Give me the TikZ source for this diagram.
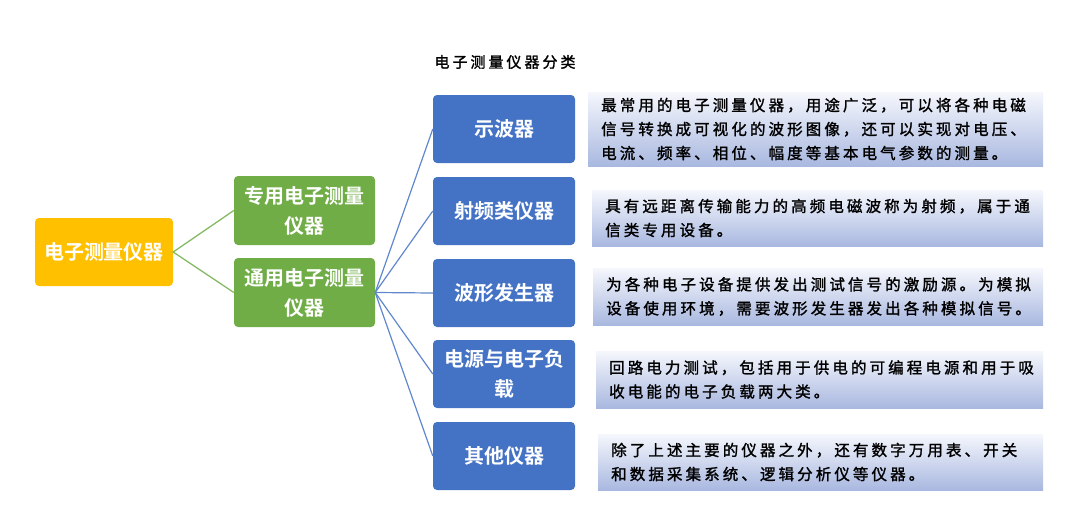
\documentclass[tikz,border=0pt]{standalone}
\usepackage{fontspec}
\setmainfont{Noto Sans CJK SC}[BoldFont={Noto Sans CJK SC Bold}]
\newfontfamily\descfont{Noto Sans CJK SC}[LetterSpace=20, FakeBold=1.5]
\usetikzlibrary{positioning}

\definecolor{rootorange}{HTML}{FFC000}
\definecolor{branchgreen}{HTML}{70AD47}
\definecolor{leafblue}{HTML}{4472C4}
\definecolor{desctop}{HTML}{F5F7FC}
\definecolor{descbottom}{HTML}{A9B8E0}

\begin{document}
\begin{tikzpicture}[x=1pt, y=-1pt,
  catbox/.style={rounded corners=4pt, text=white, align=center, inner sep=0pt,
    minimum height=68pt, font=\fontsize{20}{30}\selectfont\bfseries},
  rootbox/.style={catbox, fill=rootorange, minimum width=138pt},
  midbox/.style={catbox, fill=branchgreen, minimum width=141pt, minimum height=69pt},
  leafbox/.style={catbox, fill=leafblue, minimum width=142pt},
  descbox/.style={anchor=west, top color=desctop, bottom color=descbottom, draw=none,
    align=left, inner xsep=13pt, inner ysep=0pt,
    font=\descfont\fontsize{15.5}{24}\selectfont}]

\useasboundingbox (0,0) rectangle (1080,506);

%title
\node[font=\descfont\fontsize{15}{18}\selectfont] (title) at (505,62) {电子测量仪器分类};

%root and the two branches
\node[rootbox] (root) at (104,252) {电子测量仪器};
\node[midbox] (special) at (304.5,210.5) {专用电子测量\\仪器};
\node[midbox] (general) at (304.5,292.5) {通用电子测量\\仪器};

%instrument kinds
\node[leafbox] (scope) at (504,129) {示波器};
\node[leafbox] (rf) at (504,211) {射频类仪器};
\node[leafbox] (wave) at (504,293) {波形发生器};
\node[leafbox] (power) at (504,374) {电源与电子负\\载};
\node[leafbox] (other) at (504,456) {其他仪器};

% descriptions
\node[descbox, text width=429pt, minimum height=74pt] (scopetext) at (588,129)
  {最常用的电子测量仪器，用途广泛，可以将各种电磁\\信号转换成可视化的波形图像，还可以实现对电压、\\电流、频率、相位、幅度等基本电气参数的测量。};
\node[descbox, text width=425pt, minimum height=56pt] (rftext) at (592,218)
  {具有远距离传输能力的高频电磁波称为射频，属于通\\信类专用设备。};
\node[descbox, text width=424pt, minimum height=57pt] (wavetext) at (593,296.5)
  {为各种电子设备提供发出测试信号的激励源。为模拟\\设备使用环境，需要波形发生器发出各种模拟信号。};
\node[descbox, text width=421pt, minimum height=57pt] (powertext) at (596,379.5)
  {回路电力测试，包括用于供电的可编程电源和用于吸\\收电能的电子负载两大类。};
\node[descbox, text width=419pt, minimum height=56pt] (othertext) at (598,462)
  {除了上述主要的仪器之外，还有数字万用表、开关\\和数据采集系统、逻辑分析仪等仪器。};

% connectors
\draw[branchgreen!85!white, line width=1.3pt] (special.west) -- (root.east) -- (general.west);
\foreach \leaf in {scope, rf, wave, power, other}
  \draw[leafblue!85!white, line width=1.2pt] (general.east) -- (\leaf.west);

\end{tikzpicture}
\end{document}
